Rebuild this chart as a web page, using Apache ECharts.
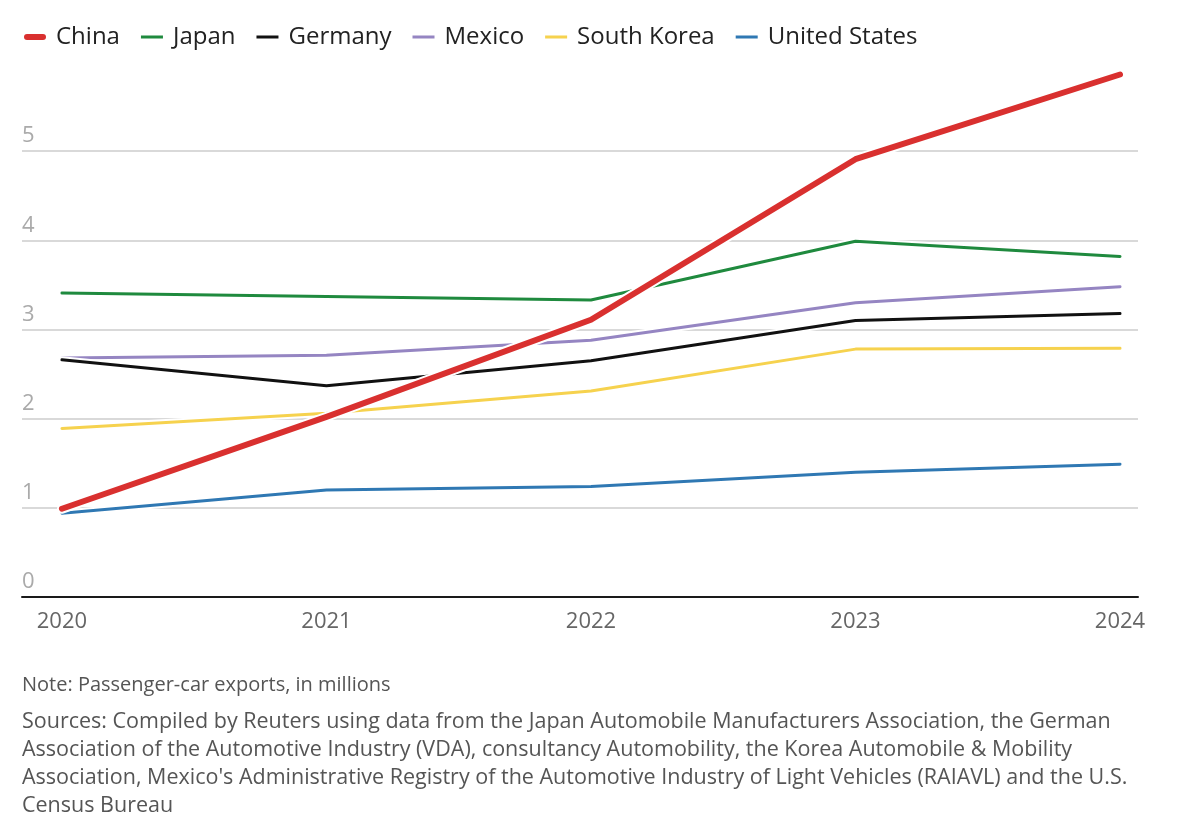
<!DOCTYPE html>
<html>
<head>
<meta charset="utf-8">
<script src="https://cdn.jsdelivr.net/npm/echarts@6/dist/echarts.min.js"></script>
<style>
html,body{margin:0;padding:0;background:#fff;}
#chart{width:1200px;height:822px;}
</style>
</head>
<body>
<div id="chart"></div>
<script>
const years = [2020, 2021, 2022, 2023, 2024];
const china = [0.99, 2.02, 3.11, 4.91, 5.86];
const japan = [3.41, 3.37, 3.33, 3.99, 3.82];
const germany = [2.66, 2.37, 2.65, 3.10, 3.18];
const mexico = [2.68, 2.71, 2.88, 3.30, 3.48];
const southKorea = [1.89, 2.06, 2.31, 2.78, 2.79];
const unitedStates = [0.94, 1.20, 1.24, 1.40, 1.49];
const yTicks = [0, 1, 2, 3, 4, 5];
const noteText = 'Note: Passenger-car exports, in millions';
const sourceLines = [
  'Sources: Compiled by Reuters using data from the Japan Automobile Manufacturers Association, the German',
  'Association of the Automotive Industry (VDA), consultancy Automobility, the Korea Automobile & Mobility',
  "Association, Mexico's Administrative Registry of the Automotive Industry of Light Vehicles (RAIAVL) and the U.S.",
  'Census Bureau'
];

const FONT = '"Open Sans", Roboto, sans-serif';
const pairs = arr => years.map((y, i) => [y, arr[i]]);

const seriesDefs = [
  {name: 'United States', data: unitedStates, color: '#2f78b3', width: 3},
  {name: 'South Korea', data: southKorea, color: '#f6d24e', width: 3},
  {name: 'Mexico', data: mexico, color: '#9585c2', width: 3},
  {name: 'Germany', data: germany, color: '#111111', width: 3},
  {name: 'Japan', data: japan, color: '#1f8a3e', width: 3},
  {name: 'China', data: china, color: '#d9302f', width: 6}
];

const thinIcon = 'path://M0,0L0.001,0Z M0,1.6h22v2.8h-22Z M0,6L0.001,6Z';
const thickIcon = 'path://M3,0h16a3,3 0 0 1 0,6h-16a3,3 0 0 1 0,-6Z';

const series = [];
seriesDefs.forEach((s, i) => {
  series.push({
    name: s.name + ' halo', type: 'line', data: pairs(s.data), symbol: 'none', silent: true,
    lineStyle: {color: '#ffffff', width: s.width + 4, cap: 'round', join: 'round'},
    z: 2 + i * 2, animation: false, legendHoverLink: false
  });
  series.push({
    name: s.name, type: 'line', data: pairs(s.data), symbol: 'none',
    itemStyle: {color: s.color},
    lineStyle: {color: s.color, width: s.width, cap: 'round', join: 'round'},
    z: 3 + i * 2, animation: false
  });
});

const legendOrder = ['China', 'Japan', 'Germany', 'Mexico', 'South Korea', 'United States'];

const chart = echarts.init(document.getElementById('chart'), null, {renderer: 'canvas'});
chart.setOption({
  animation: false,
  backgroundColor: '#ffffff',
  legend: {
    data: legendOrder.map(n => ({name: n, icon: n === 'China' ? thickIcon : thinIcon})),
    left: 19, top: 20,
    itemWidth: 22, itemHeight: 6, itemGap: 21,
    textStyle: {fontFamily: FONT, fontSize: 24, color: '#222', padding: [0, 0, 0, 5]}
  },
  grid: {left: 22, right: 62, top: 62, bottom: 225, containLabel: false},
  xAxis: {
    type: 'value', min: 2019.849, max: 2024.068,
    splitLine: {show: false},
    axisTick: {show: false},
    axisLine: {show: true, onZero: false, lineStyle: {color: '#1a1a1a', width: 2}},
    axisLabel: {
      customValues: years, margin: 14,
      fontFamily: FONT, fontSize: 22, color: '#666',
      formatter: v => String(v)
    }
  },
  yAxis: {
    type: 'value', min: 0, max: 6, interval: 1,
    axisLine: {show: false}, axisTick: {show: false},
    splitLine: {show: true, lineStyle: {color: ['#cccccc','#cccccc','#cccccc','#cccccc','#cccccc','#cccccc','rgba(0,0,0,0)'], width: 1.5}},
    axisLabel: {
      inside: true, margin: 0, verticalAlign: 'bottom', align: 'left',
      padding: [0, 0, 4, 0],
      fontFamily: FONT, fontSize: 22, color: '#aaaaaa',
      formatter: v => (yTicks.indexOf(v) >= 0 ? String(v) : '')
    }
  },
  graphic: [
    {type: 'text', left: 22, top: 675, style: {text: noteText, font: '20px ' + FONT, fill: '#555'}},
    {type: 'text', left: 22, top: 708, style: {text: sourceLines.join('\n'), font: '21.5px ' + FONT, fill: '#555', lineHeight: 28}}
  ],
  series: series
});
</script>
</body>
</html>
